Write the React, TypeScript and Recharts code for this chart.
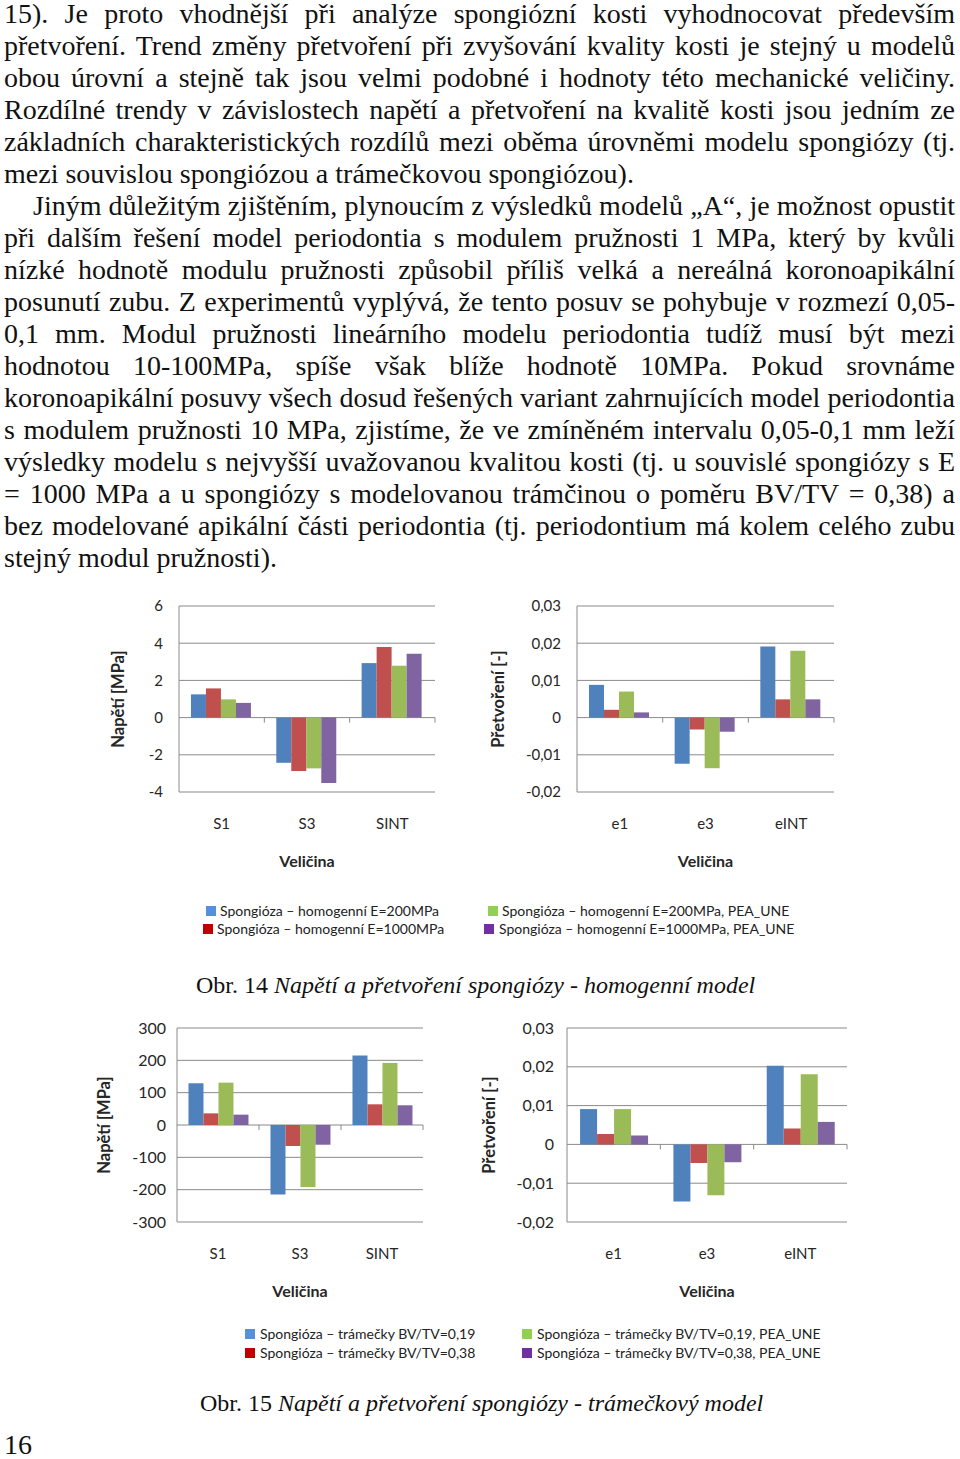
import React from 'react';
import { BarChart, Bar, XAxis, YAxis, CartesianGrid, Label } from 'recharts';

// categories
const stressCategories = ['S1', 'S3', 'SINT'];
const strainCategories = ['e1', 'e3', 'eINT'];

// Obr. 14 - homogenní model, napětí [MPa]
const homStressE200 = [1.25, -2.43, 2.93];
const homStressE1000 = [1.57, -2.87, 3.79];
const homStressE200Pea = [0.98, -2.73, 2.79];
const homStressE1000Pea = [0.79, -3.52, 3.43];

// Obr. 14 - homogenní model, přetvoření [-]
const homStrainE200 = [0.0088, -0.0124, 0.0191];
const homStrainE1000 = [0.0021, -0.0032, 0.0049];
const homStrainE200Pea = [0.007, -0.0136, 0.018];
const homStrainE1000Pea = [0.0014, -0.0038, 0.0049];

// Obr. 15 - trámečkový model, napětí [MPa]
const trabStress019 = [129, -215, 215];
const trabStress038 = [36, -65, 64];
const trabStress019Pea = [131, -192, 192];
const trabStress038Pea = [32, -61, 61];

// Obr. 15 - trámečkový model, přetvoření [-]
const trabStrain019 = [0.0091, -0.0147, 0.0203];
const trabStrain038 = [0.0027, -0.0048, 0.0041];
const trabStrain019Pea = [0.0091, -0.0131, 0.0181];
const trabStrain038Pea = [0.0023, -0.0046, 0.0058];

// tick values
const homStressTicks = [-4, -2, 0, 2, 4, 6];
const trabStressTicks = [-300, -200, -100, 0, 100, 200, 300];
const strainTicks = [-0.02, -0.01, 0, 0.01, 0.02, 0.03];

const homLegend = [
  'Spongióza – homogenní E=200MPa',
  'Spongióza – homogenní E=1000MPa',
  'Spongióza – homogenní E=200MPa, PEA_UNE',
  'Spongióza – homogenní E=1000MPa, PEA_UNE',
];
const trabLegend = [
  'Spongióza – trámečky BV/TV=0,19',
  'Spongióza – trámečky BV/TV=0,38',
  'Spongióza – trámečky BV/TV=0,19, PEA_UNE',
  'Spongióza – trámečky BV/TV=0,38, PEA_UNE',
];

const textLines = [
  '15). Je proto vhodnější při analýze spongiózní kosti vyhodnocovat především',
  'přetvoření. Trend změny přetvoření při zvyšování kvality kosti je stejný u modelů',
  'obou úrovní a stejně tak jsou velmi podobné i hodnoty této mechanické veličiny.',
  'Rozdílné trendy v závislostech napětí a přetvoření na kvalitě kosti jsou jedním ze',
  'základních charakteristických rozdílů mezi oběma úrovněmi modelu spongiózy (tj.',
  'mezi souvislou spongiózou a trámečkovou spongiózou).',
  'Jiným důležitým zjištěním, plynoucím z výsledků modelů „A“, je možnost opustit',
  'při dalším řešení model periodontia s modulem pružnosti 1 MPa, který by kvůli',
  'nízké hodnotě modulu pružnosti způsobil příliš velká a nereálná koronoapikální',
  'posunutí zubu. Z experimentů vyplývá, že tento posuv se pohybuje v rozmezí 0,05-',
  '0,1 mm. Modul pružnosti lineárního modelu periodontia tudíž musí být mezi',
  'hodnotou 10-100MPa, spíše však blíže hodnotě 10MPa. Pokud srovnáme',
  'koronoapikální posuvy všech dosud řešených variant zahrnujících model periodontia',
  's modulem pružnosti 10 MPa, zjistíme, že ve zmíněném intervalu 0,05-0,1 mm leží',
  'výsledky modelu s nejvyšší uvažovanou kvalitou kosti (tj. u souvislé spongiózy s E',
  '= 1000 MPa a u spongiózy s modelovanou trámčinou o poměru BV/TV = 0,38) a',
  'bez modelované apikální části periodontia (tj. periodontium má kolem celého zubu',
  'stejný modul pružnosti).',
];
const paragraphEnds = [5, 17];
const paragraphStarts = [6];

const barColors = ['#4F81BD', '#C0504D', '#9BBB59', '#8064A2'];
const legendColors = ['#5590D9', '#C00000', '#92D050', '#7030A0'];
const gridColor = '#8a8a8a';
const chartFont = 'Lato, "Open Sans", sans-serif';
const serif = '"Liberation Serif", "Times New Roman", serif';

function buildRows(categories: string[], series: number[][]) {
  return categories.map((name, i) => ({
    name,
    a: series[0][i],
    b: series[1][i],
    c: series[2][i],
    d: series[3][i],
  }));
}

const strainFormat = (v: number) => (v === 0 ? '0' : v.toFixed(2).replace('.', ','));

interface PanelProps {
  left: number;
  top: number;
  width: number;
  height: number;
  yAxisWidth: number;
  marginTop: number;
  marginRight: number;
  tickGap: number;
  yLabelX: number;
  rows: any[];
  ticks: number[];
  format?: (v: number) => string;
  yLabel: string;
  tickSize: number;
}

function Panel(p: PanelProps) {
  const xAxisHeight = 88;
  const plotHeight = p.height - p.marginTop - xAxisHeight;
  const plotWidth = p.width - p.yAxisWidth - p.marginRight;
  const band = plotWidth / p.rows.length;
  const lo = p.ticks[0];
  const hi = p.ticks[p.ticks.length - 1];
  // small Excel-style marks on the zero line between categories
  const zeroUp = (plotHeight * (0 - lo)) / (hi - lo);
  const catTick = (t: any) => (
    <g>
      <line
        x1={t.x + band / 2}
        x2={t.x + band / 2}
        y1={t.y - zeroUp}
        y2={t.y - zeroUp + 5}
        stroke={gridColor}
      />
      <text
        x={t.x}
        y={t.y + 31}
        textAnchor="middle"
        dominantBaseline="central"
        fontFamily={chartFont}
        fontSize={15}
        fill="#262626"
      >
        {t.payload.value}
      </text>
    </g>
  );
  return (
    <div style={{ position: 'absolute', left: p.left, top: p.top }}>
      <BarChart
        width={p.width}
        height={p.height}
        data={p.rows}
        margin={{ top: p.marginTop, right: p.marginRight, bottom: 0, left: 0 }}
        barCategoryGap="14%"
        barGap={0}
      >
        <CartesianGrid vertical={false} stroke={gridColor} />
        <XAxis
          dataKey="name"
          height={xAxisHeight}
          axisLine={false}
          tickLine={false}
          tickSize={0}
          tickMargin={0}
          tick={catTick}
        >
          <Label
            content={(lp: any) => {
              const vb = lp.viewBox || {};
              return (
                <text
                  x={vb.x + vb.width / 2}
                  y={vb.y + 68}
                  textAnchor="middle"
                  dominantBaseline="central"
                  fontFamily={chartFont}
                  fontWeight={700}
                  fontSize={16}
                  fill="#262626"
                >
                  Veličina
                </text>
              );
            }}
          />
        </XAxis>
        <YAxis
          width={p.yAxisWidth}
          domain={[lo, hi]}
          ticks={p.ticks}
          interval={0}
          tickFormatter={p.format}
          axisLine={{ stroke: gridColor }}
          tickLine={false}
          tickSize={0}
          tickMargin={p.tickGap}
          tick={{ fontFamily: chartFont, fontSize: p.tickSize, fill: '#262626' }}
        >
          <Label
            content={(lp: any) => {
              const vb = lp.viewBox || {};
              const cx = vb.x + p.yLabelX;
              const cy = vb.y + vb.height / 2;
              return (
                <text
                  x={cx}
                  y={cy}
                  transform={`rotate(-90 ${cx} ${cy})`}
                  textAnchor="middle"
                  dominantBaseline="central"
                  fontFamily={chartFont}
                  fontWeight={700}
                  fontSize={16.5}
                  fill="#262626"
                >
                  {p.yLabel}
                </text>
              );
            }}
          />
        </YAxis>
        <Bar dataKey="a" fill={barColors[0]} isAnimationActive={false} />
        <Bar dataKey="b" fill={barColors[1]} isAnimationActive={false} />
        <Bar dataKey="c" fill={barColors[2]} isAnimationActive={false} />
        <Bar dataKey="d" fill={barColors[3]} isAnimationActive={false} />
      </BarChart>
    </div>
  );
}

function LegendItem({ x, y, textX, color, text }: { x: number; y: number; textX: number; color: string; text: string }) {
  return (
    <>
      <div style={{ position: 'absolute', left: x, top: y - 5, width: 10, height: 10, background: color }} />
      <div
        style={{
          position: 'absolute',
          left: textX,
          top: y - 10,
          height: 20,
          lineHeight: '20px',
          fontFamily: chartFont,
          fontSize: 14,
          color: '#222',
          whiteSpace: 'nowrap',
        }}
      >
        {text}
      </div>
    </>
  );
}

export default function App() {
  const homStressRows = buildRows(stressCategories, [homStressE200, homStressE1000, homStressE200Pea, homStressE1000Pea]);
  const homStrainRows = buildRows(strainCategories, [homStrainE200, homStrainE1000, homStrainE200Pea, homStrainE1000Pea]);
  const trabStressRows = buildRows(stressCategories, [trabStress019, trabStress038, trabStress019Pea, trabStress038Pea]);
  const trabStrainRows = buildRows(strainCategories, [trabStrain019, trabStrain038, trabStrain019Pea, trabStrain038Pea]);

  return (
    <div
      style={{
        position: 'absolute',
        left: 0,
        top: 0,
        width: 960,
        height: 1459,
        background: '#fff',
        overflow: 'hidden',
        fontFamily: serif,
        color: '#111',
      }}
    >
      {textLines.map((line, i) => {
        const last = paragraphEnds.includes(i);
        const indent = paragraphStarts.includes(i) ? 29 : 0;
        return (
          <div
            key={i}
            style={{
              position: 'absolute',
              left: 4 + indent,
              top: 32 * i,
              width: 951 - indent,
              height: 28,
              lineHeight: '28px',
              fontSize: 28,
              whiteSpace: 'nowrap',
              textAlign: last ? 'left' : 'justify',
              textAlignLast: last ? 'left' : 'justify',
            }}
          >
            {line}
          </div>
        );
      })}

      <Panel
        left={100}
        top={590}
        width={350}
        height={290}
        yAxisWidth={79}
        marginTop={16}
        marginRight={15}
        tickGap={16}
        yLabelX={18}
        rows={homStressRows}
        ticks={homStressTicks}
        yLabel="Napětí [MPa]"
        tickSize={15}
      />
      <Panel
        left={480}
        top={590}
        width={370}
        height={290}
        yAxisWidth={97}
        marginTop={16}
        marginRight={16}
        tickGap={16}
        yLabelX={18}
        rows={homStrainRows}
        ticks={strainTicks}
        format={strainFormat}
        yLabel="Přetvoření [-]"
        tickSize={15}
      />

      {homLegend.map((t, i) => (
        <LegendItem
          key={t}
          text={t}
          color={legendColors[i]}
          x={[206, 203, 488, 484][i]}
          textX={[220, 217, 502, 499][i]}
          y={[911, 929, 911, 929][i]}
        />
      ))}

      <div style={{ position: 'absolute', left: 196, top: 970, lineHeight: '30px', fontSize: 24, whiteSpace: 'nowrap' }}>
        Obr. 14 <i>Napětí a přetvoření spongiózy - homogenní model</i>
      </div>

      <Panel
        left={90}
        top={1010}
        width={360}
        height={300}
        yAxisWidth={87}
        marginTop={18}
        marginRight={27}
        tickGap={11}
        yLabelX={14}
        rows={trabStressRows}
        ticks={trabStressTicks}
        yLabel="Napětí [MPa]"
        tickSize={16}
      />
      <Panel
        left={470}
        top={1010}
        width={390}
        height={300}
        yAxisWidth={97}
        marginTop={18}
        marginRight={13}
        tickGap={13}
        yLabelX={19}
        rows={trabStrainRows}
        ticks={strainTicks}
        format={strainFormat}
        yLabel="Přetvoření [-]"
        tickSize={16}
      />

      {trabLegend.map((t, i) => (
        <LegendItem
          key={t}
          text={t}
          color={legendColors[i]}
          x={[245, 245, 522, 522][i]}
          textX={[260, 260, 537, 537][i]}
          y={[1334, 1353, 1334, 1353][i]}
        />
      ))}

      <div style={{ position: 'absolute', left: 200, top: 1388, lineHeight: '30px', fontSize: 24, whiteSpace: 'nowrap' }}>
        Obr. 15 <i>Napětí a přetvoření spongiózy - trámečkový model</i>
      </div>

      <div style={{ position: 'absolute', left: 4, top: 1431, height: 28, lineHeight: '28px', fontSize: 28 }}>16</div>
    </div>
  );
}
